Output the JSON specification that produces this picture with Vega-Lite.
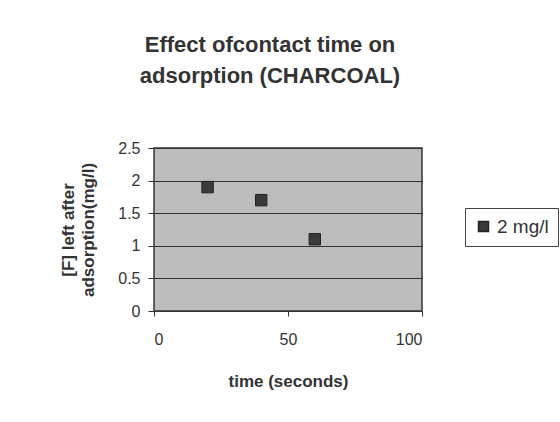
{
  "$schema": "https://vega.github.io/schema/vega-lite/v6.json",
  "width": 268,
  "height": 163,
  "autosize": {"type": "none"},
  "padding": {"left": 154, "top": 148, "right": 138, "bottom": 111},
  "background": "white",
  "title": {
    "text": ["Effect ofcontact time on", "adsorption (CHARCOAL)"],
    "font": "Liberation Sans",
    "fontSize": 22,
    "fontWeight": "bold",
    "color": "#333333",
    "anchor": "middle",
    "dx": -18,
    "offset": 52,
    "lineHeight": 31
  },
  "data": {
    "values": [
      {"time": 20, "F": 1.9, "series": "2 mg/l"},
      {"time": 40, "F": 1.7, "series": "2 mg/l"},
      {"time": 60, "F": 1.1, "series": "2 mg/l"}
    ]
  },
  "mark": {"type": "point", "shape": "square", "filled": true, "size": 130, "stroke": "#222222", "strokeWidth": 1, "opacity": 1},
  "encoding": {
    "x": {
      "field": "time",
      "type": "quantitative",
      "scale": {"domain": [0, 100], "nice": false, "zero": false},
      "axis": {
        "values": [0, 50, 100],
        "title": "time (seconds)",
        "grid": false,
        "domain": false,
        "ticks": true,
        "tickSize": 5,
        "labelPadding": 15,
        "titlePadding": 26
      }
    },
    "y": {
      "field": "F",
      "type": "quantitative",
      "scale": {"domain": [0, 2.5], "nice": false},
      "axis": {
        "values": [0, 0.5, 1, 1.5, 2, 2.5],
        "format": "~g",
        "title": ["[F] left after", "adsorption(mg/l)"],
        "grid": true,
        "gridColor": "#333333",
        "gridWidth": 1,
        "gridOpacity": 1,
        "domain": false,
        "tickSize": 6,
        "labelPadding": 8,
        "titlePadding": 20,
        "titleFontSize": 17,
        "titleLineHeight": 20
      }
    },
    "color": {
      "field": "series",
      "type": "nominal",
      "scale": {"range": ["#3a3a3a"]},
      "legend": {
        "orient": "none",
        "legendX": 311,
        "legendY": 60,
        "title": null,
        "strokeColor": "#444444",
        "fillColor": "white",
        "padding": 9,
        "symbolType": "square",
        "symbolSize": 100,
        "symbolStrokeColor": "#222222",
        "labelOffset": 4,
        "labelFont": "Liberation Sans",
        "labelFontSize": 19,
        "labelColor": "#333333"
      }
    }
  },
  "config": {
    "view": {"fill": "#bcbcbc", "stroke": "#333333", "strokeWidth": 1.5},
    "axis": {
      "labelFont": "Liberation Sans",
      "labelFontSize": 16,
      "labelColor": "#333333",
      "titleFont": "Liberation Sans",
      "titleFontSize": 17,
      "titleFontWeight": "bold",
      "titleColor": "#333333",
      "tickColor": "#333333"
    }
  }
}
